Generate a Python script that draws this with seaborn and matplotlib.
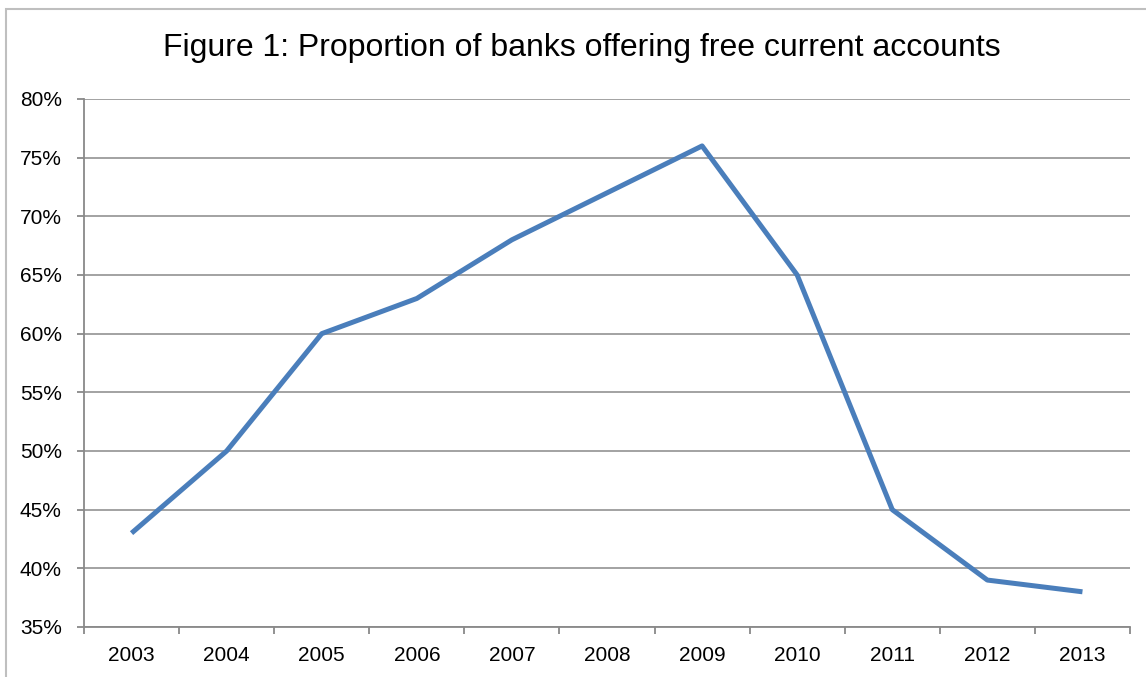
import matplotlib
matplotlib.use("Agg")
import matplotlib.pyplot as plt
from matplotlib.patches import Rectangle
from matplotlib.ticker import FixedLocator, PercentFormatter
import seaborn as sns
import pandas as pd
import numpy as np

years = ["2003", "2004", "2005", "2006", "2007", "2008", "2009", "2010", "2011", "2012", "2013"]
share_free = [43, 50, 60, 63, 68, 72, 76, 65, 45, 39, 38]
y_ticks = [35, 40, 45, 50, 55, 60, 65, 70, 75, 80]
title = "Figure 1: Proportion of banks offering free current accounts"

sns.set_theme(style="white")
plt.rcParams["font.family"] = ["Liberation Sans", "DejaVu Sans"]

df = pd.DataFrame({"pos": np.arange(len(years)), "share": share_free})

W, H = 1146, 677
fig = plt.figure(figsize=(W / 100, H / 100), dpi=100)
fig.patch.set_facecolor("white")
ax = fig.add_axes([84 / W, 1 - 627 / H, (1130 - 84) / W, (627 - 99) / H])

grid_c = "#898989"
sns.lineplot(data=df, x="pos", y="share", ax=ax, color="#4A7EBB",
             linewidth=3.6, solid_joinstyle="round", solid_capstyle="butt",
             zorder=3)

ax.set_xlim(-0.5, len(years) - 0.5)
ax.set_ylim(y_ticks[0], y_ticks[-1])
ax.set_yticks(y_ticks)
ax.yaxis.set_major_formatter(PercentFormatter(decimals=0))
ax.set_xticks(np.arange(len(years)))
ax.set_xticklabels(years)
ax.xaxis.set_minor_locator(FixedLocator(np.arange(len(years) + 1) - 0.5))

ax.tick_params(axis="x", which="major", length=0, pad=14, labelsize=15, colors="black")
ax.tick_params(axis="x", which="minor", bottom=True, length=5, width=1.3, color=grid_c)
ax.tick_params(axis="y", which="major", left=True, length=5, width=1.3, color=grid_c,
               pad=11, labelsize=15, labelcolor="black")

ax.yaxis.grid(True, color=grid_c, linewidth=1.1)
ax.xaxis.grid(False)
ax.set_axisbelow(True)
ax.set_xlabel("")
ax.set_ylabel("")
for side in ["top", "right"]:
    ax.spines[side].set_visible(False)
for side in ["left", "bottom"]:
    ax.spines[side].set_color(grid_c)
    ax.spines[side].set_linewidth(1.3)

fig.text(582 / W, 1 - 48 / H, title, ha="center", va="center", fontsize=23, color="black")

# Chart-area frame
fig.patches.append(Rectangle((6 / W, -0.05), 1.2, 1 - 9 / H + 0.05,
                             transform=fig.transFigure, fill=False,
                             edgecolor="#BFBFBF", linewidth=1.5, zorder=0))

fig.savefig("out.png", dpi=100, facecolor="white")
